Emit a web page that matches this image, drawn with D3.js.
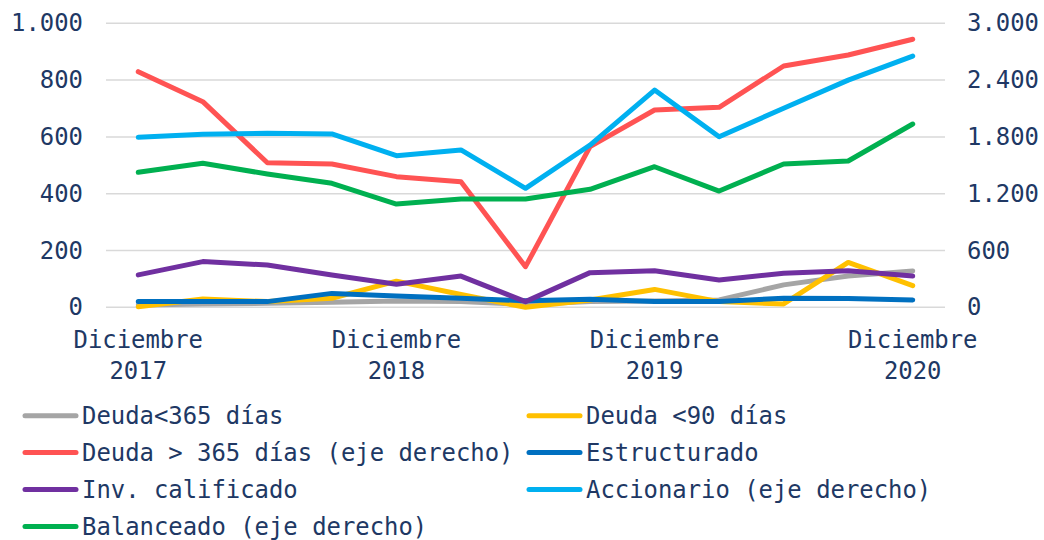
<!DOCTYPE html>
<html>
<head>
<meta charset="utf-8">
<script src="https://cdn.jsdelivr.net/npm/d3@7"></script>
<style>
  html, body { margin: 0; padding: 0; background: #ffffff; }
  svg { display: block; }
  text { font-family: "DejaVu Sans Mono", "Liberation Mono", monospace; fill: #203864; }
</style>
</head>
<body>
<svg id="chart" width="1044" height="540"></svg>
<script>
// ---- data ----
const periods = ["Dic 2017","Mar 2018","Jun 2018","Sep 2018","Dic 2018","Mar 2019","Jun 2019","Sep 2019","Dic 2019","Mar 2020","Jun 2020","Sep 2020","Dic 2020"];
const xLabels = {0: ["Diciembre","2017"], 4: ["Diciembre","2018"], 8: ["Diciembre","2019"], 12: ["Diciembre","2020"]};

const deudaMenor365 = [8, 12, 14, 18, 22, 20, 10, 20, 22, 26, 79, 110, 128];
const deudaMenor90  = [2, 29, 20, 32, 92, 45, 0, 26, 63, 20, 12, 158, 76];
const estructurado  = [20, 20, 20, 49, 40, 32, 23, 28, 20, 20, 32, 31, 26];
const invCalificado = [114, 161, 149, 114, 81, 110, 20, 122, 129, 96, 120, 129, 110];
// right axis series
const deudaMayor365 = [2489, 2172, 1527, 1514, 1380, 1327, 429, 1697, 2084, 2113, 2549, 2665, 2831];
const accionario    = [1796, 1827, 1838, 1831, 1601, 1662, 1257, 1714, 2295, 1802, 2102, 2400, 2654];
const balanceado    = [1426, 1521, 1408, 1310, 1091, 1144, 1144, 1246, 1485, 1228, 1514, 1545, 1936];

const leftTicks  = [0, 200, 400, 600, 800, 1000];
const rightTicks = [0, 600, 1200, 1800, 2400, 3000];

const seriesNames = ["Deuda<365 días", "Deuda <90 días", "Deuda > 365 días (eje derecho)", "Estructurado", "Inv. calificado", "Accionario (eje derecho)", "Balanceado (eje derecho)"];
const seriesColors = ["#a5a5a5", "#ffc000", "#ff5353", "#0070c0", "#7030a0", "#00b0f0", "#00b050"];

// ---- chart ----
const svg = d3.select("#chart");
const plotLeft = 106, plotRight = 945, plotTop = 23.3, plotBottom = 307.3;
const fontSize = 23.9;

const x = d3.scalePoint().domain(d3.range(periods.length)).range([plotLeft, plotRight]).padding(0.5);
const yL = d3.scaleLinear().domain([0, 1000]).range([plotBottom, plotTop]);
const yR = d3.scaleLinear().domain([0, 3000]).range([plotBottom, plotTop]);

const fmt = v => d3.format(",")(v).replace(/,/g, ".");

// gridlines
svg.append("g").selectAll("line").data(leftTicks).join("line")
  .attr("x1", plotLeft).attr("x2", plotRight)
  .attr("y1", d => yL(d)).attr("y2", d => yL(d))
  .attr("stroke", "#d9d9d9").attr("stroke-width", 1.5);

// left axis
const leftAxis = d3.axisLeft(yL).tickValues(leftTicks).tickFormat(fmt).tickSize(0).tickPadding(0);
const gL = svg.append("g").attr("transform", "translate(83,0)").call(leftAxis);
gL.select(".domain").remove();
gL.selectAll("text").attr("font-size", fontSize).attr("font-family", null).attr("fill", "#203864");

// right axis
const rightAxis = d3.axisRight(yR).tickValues(rightTicks).tickFormat(fmt).tickSize(0).tickPadding(0);
const gR = svg.append("g").attr("transform", "translate(967,0)").call(rightAxis);
gR.select(".domain").remove();
gR.selectAll("text").attr("font-size", fontSize).attr("font-family", null).attr("fill", "#203864");

// x labels
const xg = svg.append("g");
Object.entries(xLabels).forEach(([i, lines]) => {
  const t = xg.append("text").attr("text-anchor", "middle").attr("font-size", fontSize);
  t.append("tspan").attr("x", x(+i)).attr("y", 348).text(lines[0]);
  t.append("tspan").attr("x", x(+i)).attr("y", 379).text(lines[1]);
});

// lines
const seriesData = [
  {vals: deudaMenor365, axis: yL, color: seriesColors[0]},
  {vals: deudaMenor90, axis: yL, color: seriesColors[1]},
  {vals: estructurado, axis: yL, color: seriesColors[3]},
  {vals: invCalificado, axis: yL, color: seriesColors[4]},
  {vals: deudaMayor365, axis: yR, color: seriesColors[2]},
  {vals: accionario, axis: yR, color: seriesColors[5]},
  {vals: balanceado, axis: yR, color: seriesColors[6]}
];
const lg = svg.append("g");
seriesData.forEach(s => {
  const line = d3.line().x((d, i) => x(i)).y(d => s.axis(d));
  lg.append("path").datum(s.vals).attr("d", line)
    .attr("fill", "none").attr("stroke", s.color).attr("stroke-width", 5)
    .attr("stroke-linejoin", "round").attr("stroke-linecap", "round");
});

// legend
const legCols = [23, 527];
const legRows = [415.7, 452.6, 489.6, 526.6];
const leg = svg.append("g");
seriesNames.forEach((name, k) => {
  const cx = legCols[k % 2], cy = legRows[Math.floor(k / 2)];
  leg.append("line").attr("x1", cx + 2).attr("x2", cx + 53).attr("y1", cy).attr("y2", cy)
    .attr("stroke", seriesColors[k]).attr("stroke-width", 5).attr("stroke-linecap", "round");
  leg.append("text").attr("x", cx + 59).attr("y", cy).attr("dy", "0.35em")
    .attr("font-size", fontSize).text(name);
});
</script>
</body>
</html>
